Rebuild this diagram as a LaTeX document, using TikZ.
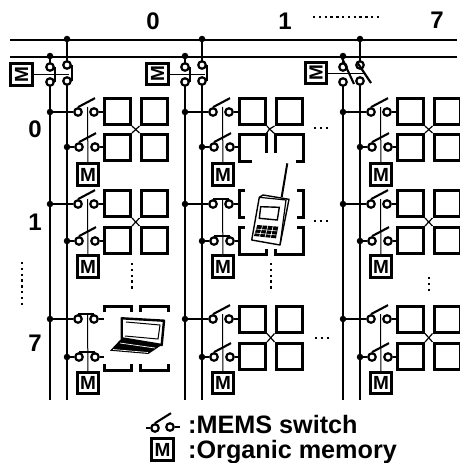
\documentclass[tikz,border=0pt]{standalone}
\usepackage{fontspec}
\setmainfont{Liberation Sans}
\usetikzlibrary{calc}

\begin{document}
\begin{tikzpicture}[x=1pt, y=-1pt,
    bus/.style={line width=2.8pt},
    wire/.style={line width=2.6pt},
    ctrl/.style={line width=1pt},
    lever/.style={line width=2.1pt},
    cellbox/.style={draw, line width=3pt, minimum size=26pt, inner sep=0pt},
    brk/.style={line width=3pt},
    xlink/.style={line width=1.2pt},
    pad/.style={circle, draw, fill=white, line width=2.2pt, minimum size=7.5pt, inner sep=0pt},
    junc/.style={circle, fill=black, minimum size=6.5pt, inner sep=0pt},
    memo/.style={draw, fill=white, line width=2.8pt, minimum size=21.5pt, inner sep=0pt, font=\bfseries\fontsize{19}{19}\selectfont},
    lbl/.style={font=\bfseries\fontsize{24}{24}\selectfont, inner sep=0pt},
    legend/.style={font=\bfseries\fontsize{25.2}{25}\selectfont, inner sep=0pt, anchor=base west},
    dotrow/.style={line width=2.6pt, dash pattern=on 2.4pt off 3.4pt}
]
\useasboundingbox (0,0) rectangle (460,463);

% word buses
\coordinate (busAl) at (10,40);
\coordinate (busAr) at (457,40);
\coordinate (busBl) at (10,57);
\coordinate (busBr) at (457,57);
\draw[bus] (busAl) -- (busAr);
\draw[bus] (busBl) -- (busBr);

% columns: bit lines, bus junctions and select switches
\foreach \cn/\dx in {0/0, 1/135, 2/293} {
  \coordinate (botA\cn) at (50+\dx,400);
  \coordinate (botB\cn) at (67+\dx,400);
  \node[junc] (jA\cn) at (67+\dx,39) {};
  \node[junc] (jB\cn) at (50+\dx,56) {};
  \draw[wire] (jA\cn) -- ++(0,26);
  \draw[wire] (jB\cn) -- ++(0,11);
  \draw[wire] (50+\dx,82) -- (botA\cn);
  \draw[wire] (67+\dx,81) -- (botB\cn);
}
\node[memo, rotate=90] (mS0) at (21.5,74.5) {M};
\node[memo, rotate=90] (mS1) at (157.5,74) {M};
\node[memo, rotate=90] (mS2) at (316,73) {M};
\coordinate (tS0) at (69,74.5);
\coordinate (tS1) at (205,74);
\coordinate (tS2) at (365,73);
\draw[ctrl] (mS0) -- (tS0);
\draw[ctrl] (mS1) -- (tS1);
\draw[ctrl] (mS2) -- (tS2);
\foreach \cn/\dx in {0/0, 1/135, 2/293} {
  \node[pad] (selAt\cn) at (50+\dx,67) {};
  \node[pad] (selAb\cn) at (50+\dx,82) {};
  \node[pad] (selBt\cn) at (67+\dx,65) {};
  \node[pad] (selBb\cn) at (67+\dx,81) {};
}
% select switches, closed in the first two columns, open in the last
\foreach \cn in {0, 1} {
  \draw[lever] (selAt\cn.east) -- (selAb\cn.east);
  \draw[lever] (selBt\cn.east) -- (selBb\cn.east);
}
\draw[lever] ($(selAt2)+(-1,-9)$) -- ($(selAb2)+(11,2)$);
\draw[lever] ($(selBt2)+(-3,-3)$) -- ($(selBb2)+(11,2)$);

% word lines, switches and memories of each row pair
\foreach \cn/\dx in {0/0, 1/135, 2/293} {
  \foreach \rn/\ya/\yb/\ym in {0/112/147/174.5, 1/204/241/266.5, 7/319/357/383} {
    \coordinate (ct\cn\rn) at (87.5+\dx,\ya-5);
    \node[memo] (m\cn\rn) at (88+\dx,\ym) {M};
    \draw[ctrl] (ct\cn\rn) -- (m\cn\rn);
    \node[junc] (wa\cn\rn) at (50+\dx,\ya) {};
    \node[junc] (wb\cn\rn) at (67+\dx,\yb) {};
    \node[pad] (pa\cn\rn) at (78+\dx,\ya) {};
    \node[pad] (qa\cn\rn) at (94+\dx,\ya) {};
    \node[pad] (pb\cn\rn) at (79+\dx,\yb) {};
    \node[pad] (qb\cn\rn) at (95+\dx,\yb) {};
    \coordinate (ea\cn\rn) at (104+\dx,\ya);
    \coordinate (eb\cn\rn) at (104+\dx,\yb);
    \draw[wire] (wa\cn\rn) -- (pa\cn\rn);
    \draw[wire] (wb\cn\rn) -- (pb\cn\rn);
    \draw[wire] (qa\cn\rn) -- (ea\cn\rn);
    \draw[wire] (qb\cn\rn) -- (eb\cn\rn);
  }
}
% open switches
\foreach \sw in {00, 01, 10, 17, 20, 21, 27} {
  \draw[lever] (pa\sw.north) -- ++(17,-9);
  \draw[lever] (pb\sw.north) -- ++(17,-9);
}
% closed switches
\foreach \sw in {07, 11} {
  \draw[lever] (pa\sw.north) -- (qa\sw.north);
  \draw[lever] (pb\sw.north) -- (qb\sw.north);
}

% full pixel cells
\foreach \cn/\dx/\rn/\yc in {0/0/a/111.5, 0/0/b/147.5, 0/0/c/203.5, 0/0/d/240.5,
    1/135/a/111.5, 1/135/e/319, 1/135/f/356.5,
    2/293/a/111.5, 2/293/b/147.5, 2/293/c/203.5, 2/293/d/240.5, 2/293/e/319, 2/293/f/356.5} {
  \node[cellbox] (cl\cn\rn) at (117.5+\dx,\yc) {};
  \node[cellbox] (cr\cn\rn) at (154+\dx,\yc) {};
}
% links between the four cells of a block
\foreach \cn/\ru/\rl in {0/a/b, 0/c/d, 1/e/f, 2/a/b, 2/c/d, 2/e/f} {
  \draw[xlink] (cl\cn\ru.south east) -- (cr\cn\rl.north west);
  \draw[xlink] (cr\cn\ru.south west) -- (cl\cn\rl.north east);
}
\coordinate (xc1) at (269.5,129);
\draw[xlink] (cl1a.south east) -- (xc1);
\draw[xlink] (cr1a.south west) -- (xc1);
\draw[xlink] (xc1) -- (266,134);
\draw[xlink] (xc1) -- (275,134);

% cells opened for the handheld
\draw[brk] (252,161) -| (239,134) -| (266,153);
\draw[brk] (275,153) |- (303,134) |- (296,161);
\draw[brk] (245,190) -| (239,217) -- (245,217);
\draw[brk] (297,190) -| (303,217) -- (297,217);
\draw[brk] (245,227) -| (239,254) -| (266,249);
\draw[brk] (275,249) |- (303,254) |- (297,227);
% cells opened for the notebook
\draw[brk] (104,312) |- (131,306) -- (131,312);
\draw[brk] (140,312) |- (168,306) -- (168,312);
\draw[brk] (104,364) |- (131,370) -- (131,364);
\draw[brk] (140,364) |- (168,370) -- (168,364);

% handheld
\draw[line width=2pt] (281.7,197) -- (287.3,163.3);
\draw[line width=1.4pt, fill=white, line join=round] (259.3,197.3) -- (263,195) -- (289,199.3) -- (280,245) -- (251.7,240) -- cycle;
\draw[line width=1.2pt] (259.3,197.3) -- (286,200) -- (280,245);
\draw[line width=1.4pt] (260.7,206.7) -- (279.3,207.3) -- (277.3,220) -- (259.3,218.3) -- cycle;
\fill (257.3,225) -- (278.3,226.7) -- (276,238.3) -- (254,236) -- cycle;
\foreach \kx in {0.25, 0.5, 0.75} {
  \draw[white, line width=0.6pt] ($(257.3,225)!\kx!(278.3,226.7)$) -- ($(254,236)!\kx!(276,238.3)$);
}
\draw[white, line width=0.6pt] (255.5,229) -- (277.5,231);
\draw[white, line width=0.6pt] (254.8,233) -- (276.8,235);

% notebook
\draw[line width=2.4pt, fill=white, line join=round] (121.7,318.3) -- (164,320.7) -- (161.7,345) -- (121.7,338.3) -- cycle;
\draw[line width=1pt] (126,322) -- (160,325) -- (158,339) -- (125,336);
\fill[line join=round] (121.7,338.3) -- (161.7,345) -- (148.3,354) -- (110,350.7) -- cycle;
\draw[white, line width=0.7pt] (120,343) -- (155,348);
\draw[white, line width=0.7pt] (113,349.5) -- (148,352.5);

% index labels
\node[lbl] (col0) at (153,21) {0};
\node[lbl] (col1) at (285,21) {1};
\node[lbl] (col7) at (437,20) {7};
\node[lbl] (row0) at (35,129) {0};
\node[lbl] (row1) at (35,222) {1};
\node[lbl] (row7) at (35,343) {7};

% dotted continuations
\draw[dotrow] (313,17) -- (381,17);
\draw[dotrow] (22,262) -- (22,307);
\draw[dotrow] (132,263) -- (132,290);
\draw[dotrow] (271,263) -- (271,290);
\draw[dotrow] (429,277) -- (429,291);
\draw[dotrow] (314,128) -- (330,128);
\draw[dotrow] (314,221) -- (330,221);
\draw[dotrow] (315,338) -- (331,338);

% legend
\coordinate (legL) at (146,428);
\coordinate (legR) at (180,427);
\node[pad] (legA) at (155,428) {};
\node[pad] (legB) at (170,427) {};
\draw[wire] (legL) -- (legA);
\draw[wire] (legB) -- (legR);
\draw[lever] (legA.north) -- ++(16,-10);
\node[legend] (legsw) at (188,433.5) {:MEMS switch};
\node[memo] (legM) at (162.5,449.5) {M};
\node[legend] (legmem) at (188,458) {:Organic memory};
\end{tikzpicture}
\end{document}
